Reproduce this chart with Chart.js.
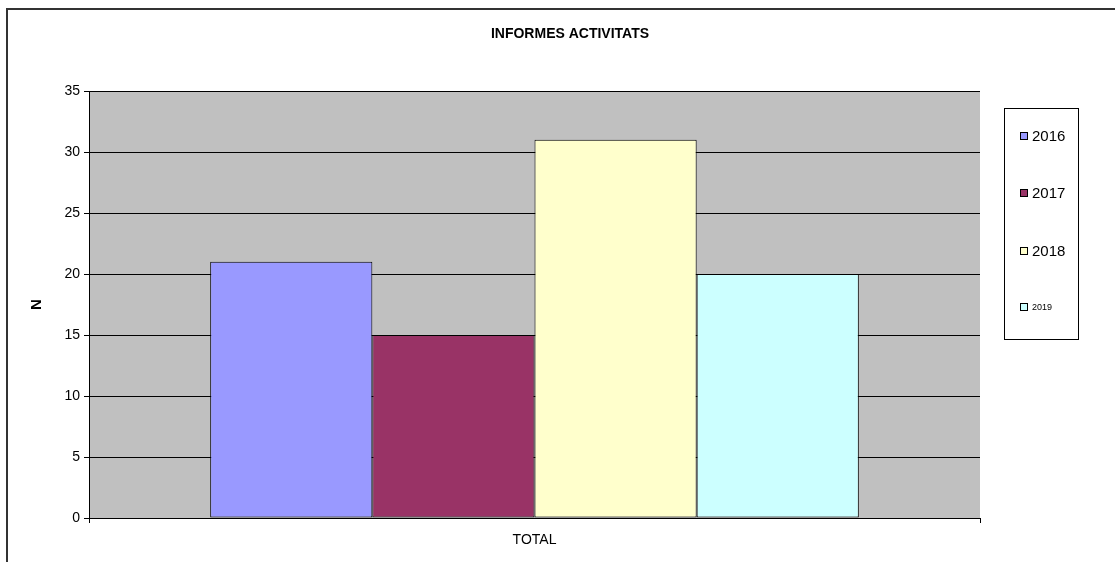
<!DOCTYPE html>
<html lang="ca">
<head>
    <meta charset="UTF-8">
    <title>Informes activitats</title>
    <style>
        html, body { margin: 0; padding: 0; background: #fff; overflow: hidden; }
        #wrap { width: 1115px; height: 562px; }
    </style>
</head>
<body>
    <div id="wrap"><canvas id="myChart" width="1115" height="562"></canvas></div>
    <script src="https://cdn.jsdelivr.net/npm/chart.js@4/dist/chart.umd.min.js"></script>
    <script>
        // data
        var categories = ['TOTAL'];
        var years = ['2016', '2017', '2018', '2019'];
        var values2016 = [21];
        var values2017 = [15];
        var values2018 = [31];
        var values2019 = [20];
        var yTicks = [0, 5, 10, 15, 20, 25, 30, 35];

        var seriesValues = [values2016, values2017, values2018, values2019];
        var seriesColors = ['#9999FF', '#993366', '#FFFFCC', '#CCFFFF'];
        var legendFontSizes = [15, 15, 15, 9];

        var fontFamily = '"Liberation Sans", Arial, sans-serif';

        // gray plot area + outer frame + title
        var backdrop = {
            id: 'backdrop',
            beforeDraw: function(chart) {
                var ctx = chart.ctx;
                var a = chart.chartArea;
                ctx.save();
                ctx.fillStyle = '#C0C0C0';
                ctx.fillRect(a.left, a.top, a.right - a.left, a.bottom - a.top);

                ctx.strokeStyle = '#333333';
                ctx.lineWidth = 2;
                ctx.beginPath();
                ctx.moveTo(7, 562);
                ctx.lineTo(7, 9);
                ctx.lineTo(1115, 9);
                ctx.stroke();

                ctx.fillStyle = '#000';
                ctx.font = 'bold 14px ' + fontFamily;
                ctx.textAlign = 'center';
                ctx.textBaseline = 'middle';
                ctx.fillText('INFORMES ACTIVITATS', 570, 34);
                ctx.restore();
            },
            afterDraw: function(chart) {
                // legend box on the right
                var ctx = chart.ctx;
                ctx.save();
                ctx.strokeStyle = '#000';
                ctx.lineWidth = 1;
                ctx.strokeRect(1004.5, 108.5, 74, 231);
                var rows = [136, 193, 251, 307];
                chart.data.datasets.forEach(function(ds, i) {
                    var y = rows[i];
                    ctx.fillStyle = ds.backgroundColor;
                    ctx.fillRect(1020.5, y - 3.5, 7, 7);
                    ctx.strokeStyle = '#000';
                    ctx.strokeRect(1020.5, y - 3.5, 7, 7);
                    ctx.fillStyle = '#000';
                    ctx.font = legendFontSizes[i] + 'px ' + fontFamily;
                    ctx.textAlign = 'left';
                    ctx.textBaseline = 'middle';
                    ctx.fillText(ds.label, 1032, y + 1);
                });
                ctx.restore();
            }
        };

        var datasets = years.map(function(year, i) {
            return {
                label: year,
                data: seriesValues[i],
                backgroundColor: seriesColors[i],
                borderColor: '#000',
                borderWidth: 1,
                borderSkipped: false,
                barPercentage: 1,
                categoryPercentage: 0.728
            };
        });

        new Chart(document.getElementById('myChart'), {
            type: 'bar',
            data: { labels: categories, datasets: datasets },
            plugins: [backdrop],
            options: {
                responsive: false,
                animation: false,
                layout: { padding: { top: 91, right: 135, left: 0, bottom: 0 } },
                plugins: {
                    legend: { display: false },
                    title: { display: false },
                    tooltip: { enabled: false }
                },
                scales: {
                    x: {
                        afterFit: function(scale) { scale.height = 44; },
                        grid: { drawOnChartArea: false, color: '#000', tickLength: 5, offset: true },
                        border: { color: '#000' },
                        ticks: { color: '#000', padding: 9, font: { family: fontFamily, size: 14 } }
                    },
                    y: {
                        min: 0,
                        max: 35,
                        afterFit: function(scale) { scale.width = 89; },
                        afterBuildTicks: function(scale) {
                            scale.ticks = yTicks.map(function(v) { return { value: v }; });
                        },
                        grid: { color: '#000', tickLength: 5 },
                        border: { color: '#000' },
                        ticks: { color: '#000', padding: 4, font: { family: fontFamily, size: 14 } },
                        title: {
                            display: true,
                            text: 'N',
                            color: '#000',
                            padding: { top: 28, bottom: 0 },
                            font: { family: fontFamily, size: 15, weight: 'bold' }
                        }
                    }
                }
            }
        });
    </script>
</body>
</html>
